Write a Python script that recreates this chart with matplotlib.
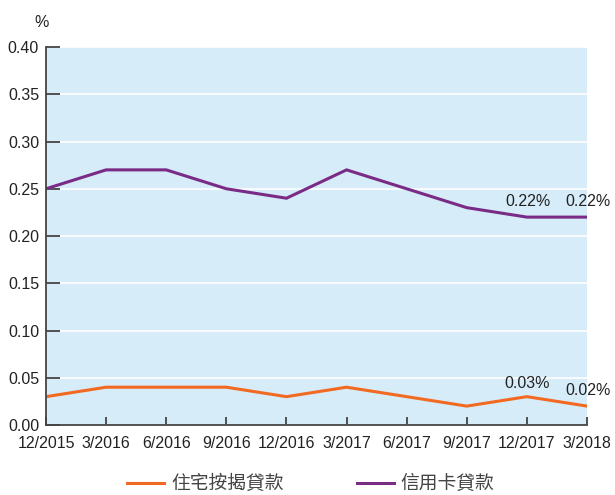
import matplotlib.pyplot as plt
from matplotlib.lines import Line2D

quarters = ['12/2015', '3/2016', '6/2016', '9/2016', '12/2016',
            '3/2017', '6/2017', '9/2017', '12/2017', '3/2018']
mortgage = [0.03, 0.04, 0.04, 0.04, 0.03, 0.04, 0.03, 0.02, 0.03, 0.02]
credit_card = [0.25, 0.27, 0.27, 0.25, 0.24, 0.27, 0.25, 0.23, 0.22, 0.22]
series_names = ['住宅按揭貸款', '信用卡貸款']

plt.rcParams['font.family'] = ['Liberation Sans', 'Noto Sans CJK TC', 'DejaVu Sans']

orange = '#f26a21'
purple = '#7a2b86'
txt = '#222222'
fs = 11.5

fig = plt.figure(figsize=(6.15, 4.95), dpi=100)
ax = fig.add_axes([0.0748, 0.1414, 0.8797, 0.7636])
ax.set_facecolor('#d6ecf9')

x = list(range(len(quarters)))
ax.plot(x, mortgage, color=orange, lw=2.2, solid_joinstyle='miter')
ax.plot(x, credit_card, color=purple, lw=2.2, solid_joinstyle='miter')

ax.set_xlim(0, len(quarters) - 1)
ax.set_ylim(0, 0.40)
ax.set_yticks([i * 0.05 for i in range(9)])
ax.set_yticklabels(['%.2f' % (i * 0.05) for i in range(9)], fontsize=fs, color=txt)
ax.set_xticks(x)
ax.set_xticklabels(quarters, fontsize=fs, color=txt)
ax.grid(axis='y', color='white', lw=1.2)
ax.set_axisbelow(True)

for s in ['top', 'right']:
    ax.spines[s].set_visible(False)
for s in ['left', 'bottom']:
    ax.spines[s].set_color('#444444')
    ax.spines[s].set_linewidth(1.3)
ax.tick_params(axis='y', direction='in', length=10, width=1.3, color='#444444', pad=5)
ax.tick_params(axis='x', direction='in', length=6, width=1.3, color='#444444', pad=8)

# labels on last points
for i in [8, 9]:
    ax.annotate('%.2f%%' % credit_card[i], (x[i], credit_card[i]), xytext=(1, 6),
                textcoords='offset points', ha='center', va='bottom', fontsize=fs, color=txt)
ax.annotate('%.2f%%' % mortgage[8], (x[8], mortgage[8]), xytext=(0, 4),
            textcoords='offset points', ha='center', va='bottom', fontsize=fs, color=txt)
ax.annotate('%.2f%%' % mortgage[9], (x[9], mortgage[9]), xytext=(1, 6),
            textcoords='offset points', ha='center', va='bottom', fontsize=fs, color=txt)

fig.text(0.068, 0.955, '%', fontsize=fs, color=txt, ha='center', va='center')

handles = [Line2D([], [], color=orange, lw=2.2), Line2D([], [], color=purple, lw=2.2)]
fig.legend(handles, series_names, loc='center', bbox_to_anchor=(0.505, 0.022),
           ncol=2, frameon=False, fontsize=13.5, handlelength=2.0, handletextpad=0.35,
           columnspacing=3.9, labelcolor='#444444')

fig.savefig('out.png', dpi=100)
